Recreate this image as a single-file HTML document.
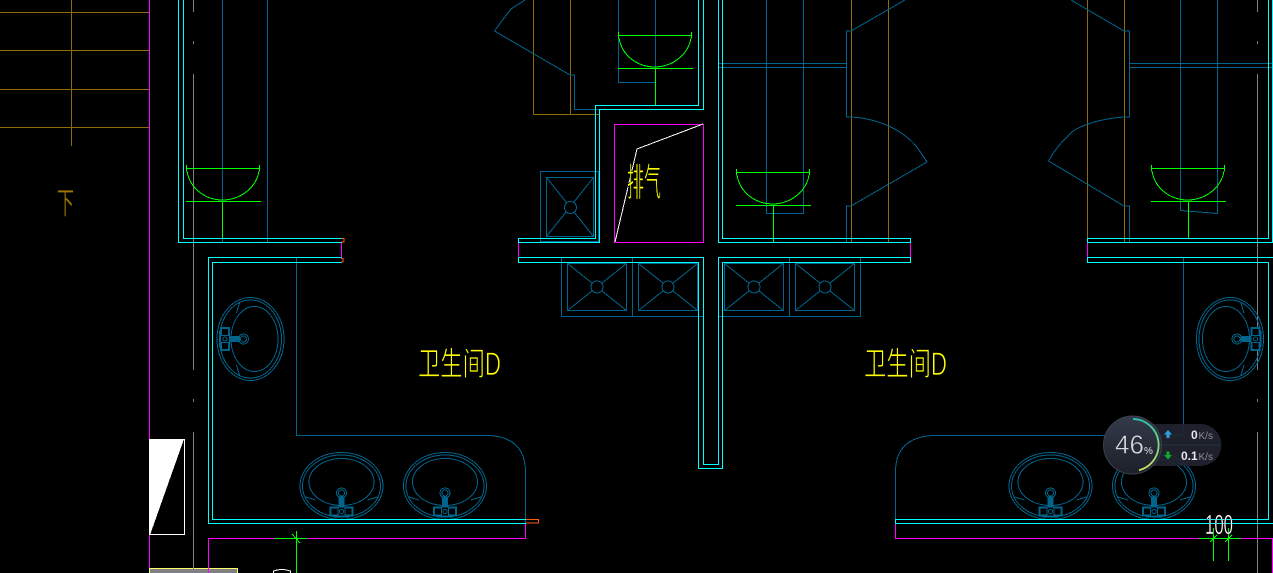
<!DOCTYPE html>
<html><head><meta charset="utf-8">
<style>
html,body{margin:0;padding:0;background:#000;width:1273px;height:573px;overflow:hidden}
svg{display:block}
.c{stroke:#00ffff}.b{stroke:#00648c}.o{stroke:#8f6a08}.m{stroke:#ff00ff}.g{stroke:#00ff00}.y{stroke:#808080}.w{stroke:#fff}
path,line,rect,ellipse,circle,polyline{fill:none;stroke-width:1}
.cad{font-family:"Liberation Sans","Noto Sans CJK SC",sans-serif}
.thin{stroke:#000;stroke-width:.7px}
.thin2{stroke:#000;stroke-width:.35px}
</style></head><body>
<svg width="1273" height="573" viewBox="0 0 1273 573" xmlns="http://www.w3.org/2000/svg">
<defs>
<g id="sink" class="b">
<ellipse rx="41.5" ry="33.5"/>
<ellipse rx="39" ry="31"/>
<ellipse cy="-4" rx="32.5" ry="23.5"/>
<path d="M-36 11L-26 14M36 11L26 14"/>
<circle cy="7" r="5" style="fill:#000"/><circle cy="7" r="3"/>
<rect x="-2.500" y="11" width="5" height="10" style="fill:#00648c"/>
<rect x="-11.500" y="21" width="23" height="9" style="fill:#000"/>
<rect x="-10.500" y="22" width="7" height="7"/><rect x="3.500" y="22" width="7" height="7"/>
<circle cy="25.500" r="2"/>
<path d="M-8 31H-3M3 31H8M0 33H1"/>
</g>
<g id="drain" class="b">
<path d="M0 0L59 47M59 0L0 47"/>
<rect x="0" y="0" width="59" height="47"/>
<circle cx="29.500" cy="23.500" r="6" style="fill:#000"/>
</g>
<g id="drainV" class="b">
<path d="M0 0L47 59M47 0L0 59"/>
<rect x="0" y="0" width="47" height="59"/>
<circle cx="24" cy="30" r="6" style="fill:#000"/>
</g>
<g id="bowl" class="g">
<path d="M.5 0V6M73.500 0V6"/>
<path d="M0 3.500H73"/>
<path d="M1 6C4 24 20 35 36.500 35C53 35 70 24 73 6"/>
<path d="M0 36.500H75"/>
</g>
</defs>

<g shape-rendering="crispEdges">
<rect width="1273" height="573" style="fill:#000"/>

<!-- stairs -->
<path class="o" d="M0 12.500H149M0 50.500H149M0 89.500H149M0 127.500H149M71.500 0V146"/>
<path class="m" d="M149.500 0V573"/>
<path class="y" d="M193.500 0V12M193.500 41V44M193.500 74V370M193.500 399V402M193.500 432V573"/>
<path class="y" d="M1257.500 0V12M1257.500 41V44M1257.500 74V370M1257.500 399V402M1257.500 432V573"/>

<!-- white door block -->
<rect class="w" x="149.500" y="439.500" width="35" height="95"/>
<polygon points="149,439 184,439 150,535 149,535" style="fill:#fff"/>
<rect x="149.500" y="568.500" width="88" height="6" style="fill:#808080;stroke:#ffff66;stroke-width:1"/>
<path class="w" d="M273.500 573V571Q282 568 290.500 571V573"/>
<path class="y" d="M193.500 568V573"/>

<!-- blue internal lines -->
<path class="b" d="M222.500 0V242M267.500 0V242"/>
<path class="b" d="M296.500 258V435.500H490Q525.500 438 525.500 472V523"/>
<path class="b" d="M1183.500 258V435.500H932Q895.500 438 895.500 472V523"/>

<!-- middle door / blue -->
<path class="o" d="M533.500 0V114.500H599.500M570.500 0V114.500"/>
<path class="b" d="M525 0L511 9L501 22L494.500 31L570 75H574.500V109.500H599"/>
<path class="b" d="M618.500 0V82.500H655.500M655.500 0V82"/>

<!-- right-centre room -->
<path class="b" d="M766.500 0V213.500H803.500V0"/>
<path class="b" d="M718 63.500H846M718 67.500H846"/>
<path class="o" d="M851.500 0V242M888.500 0V242"/>
<path class="b" d="M905 0L851 31H846.500V117H851C885 119 910 135 921 153L927 162L851 206H846.500V242"/>

<!-- far right room -->
<path class="b" d="M1180.500 0V210.500L1199 212L1217.500 213.500V0"/>
<path class="b" d="M1129 63.500H1273M1129 67.500H1273"/>
<path class="o" d="M1087.500 0V242M1124.500 0V242"/>
<path class="b" d="M1071 0L1124 31H1129.500V117H1124C1095 119 1075 128 1070 134C1060 143 1054 151 1048.500 161L1124 206H1129.500V242"/>

<!-- drains -->
<rect class="b" x="540.500" y="171.500" width="58" height="70"/>
<use href="#drainV" x="546.500" y="177.500"/>
<path class="b" d="M561.500 257.500V316.500H703M632.500 257.500V316.500"/>
<use href="#drain" x="567.500" y="263.500"/>
<use href="#drain" x="638.500" y="263.500"/>
<path class="b" d="M718 316.500H860.500V257.500M789.500 257.500V316.500"/>
<use href="#drain" x="724.500" y="263.500"/>
<use href="#drain" x="795.500" y="263.500"/>

<!-- sinks -->
<use href="#sink" transform="translate(341.500 486)"/>
<use href="#sink" transform="translate(445 486)"/>
<use href="#sink" transform="translate(1050.500 486)"/>
<use href="#sink" transform="translate(1154 486)"/>
<use href="#sink" transform="translate(250.500 339) rotate(90)"/>
<use href="#sink" transform="translate(1230 339) rotate(-90)"/>

<!-- green bowls -->
<use href="#bowl" x="186" y="165"/>
<path class="g" d="M222.500 201V238"/>
<use href="#bowl" x="618" y="32"/>
<path class="g" d="M655.500 68V105"/>
<use href="#bowl" x="736" y="169"/>
<path class="g" d="M773.500 205V242"/>
<use href="#bowl" x="1151" y="165"/>
<path class="g" d="M1188.500 201V238"/>

<!-- magenta -->
<rect class="m" x="614.500" y="124.500" width="89" height="118"/>
<path class="m" d="M341.500 242V258M518.500 242V257M910.500 242V257M1087.500 242V257"/>
<path class="m" d="M208.500 573V538.500H525.500V523"/>
<path class="m" d="M895.500 523V538.500H1272.500V573"/>
<path d="M341 238.500H344V242H341M341 258.500H343V262H341M526 519.500H538.500V523H526" style="stroke:#ff5a14"/>

<!-- white flue line -->
<path class="w" d="M615 242L637 149L703 124"/>

<!-- cyan walls -->
<path class="c" d="M178.500 0V242.500H341.500M183.500 0V238.500H341.500"/>
<path class="c" d="M341.500 257.500H208.500V523.500H526M341.500 262.500H212.500V519.500H526"/>
<path class="c" d="M698.500 0V105.500H595.500V238.500H518.500V242.500H599.500V109.500H703.500V0"/>
<path class="c" d="M518.500 257.500V262.500H698.500V468.500H722.500V262.500H910.500V257.500H718.500V464.500H703.500V257.500H518.500"/>
<path class="c" d="M718.500 0V242.500H910.500V238.500H722.500V0"/>
<path class="c" d="M1273 242.500H1087.500V238.500H1268.500V0M1272.500 0V242"/>
<path class="c" d="M1273 257.500H1087.500V262.500H1268.500V519.500H895.500V523.500H1273"/>

<!-- green ticks -->
<path class="g" d="M274 538.500H307M296.500 531V573M292 534L300 543"/>
<path class="g" d="M1199 538.500H1241M1213.500 528V561M1228.500 528V561M1210 542L1217 535M1225 542L1232 535"/>
</g>

<!-- text -->
<text class="cad thin2" transform="translate(57 214) scale(1 1.05)" font-size="29" fill="#a07808" textLength="17" lengthAdjust="spacingAndGlyphs">下</text>
<text class="cad thin" transform="translate(627 196) scale(1 1.25)" font-size="31" fill="#ffff00" textLength="34" lengthAdjust="spacingAndGlyphs">排气</text>
<text class="cad thin" transform="translate(418 375) scale(1 1.15)" font-size="28" fill="#ffff00" textLength="83" lengthAdjust="spacingAndGlyphs">卫生间D</text>
<text class="cad thin" transform="translate(864 375) scale(1 1.15)" font-size="28" fill="#ffff00" textLength="83" lengthAdjust="spacingAndGlyphs">卫生间D</text>
<text class="cad thin2" transform="translate(1205 534) scale(1 1.25)" font-size="22" fill="#ffffff" textLength="28" lengthAdjust="spacingAndGlyphs">100</text>

<!-- network widget -->
<defs>
<linearGradient id="arc" x1="0" y1="0" x2="0" y2="1"><stop offset="0" stop-color="#28c8b0"/><stop offset="1" stop-color="#cfe46a"/></linearGradient>
<linearGradient id="disc" x1="0" y1="0" x2="0" y2="1"><stop offset="0" stop-color="#343a4a"/><stop offset="1" stop-color="#1d2029"/></linearGradient>
</defs>
<rect x="1132" y="424" width="89.500" height="42" rx="21" style="fill:#20242f;fill-opacity:.93;stroke:none"/>
<line x1="1162" y1="445" x2="1220" y2="445" style="stroke:#2c313d"/>
<circle cx="1132.500" cy="445" r="29" style="fill:url(#disc);stroke:#3a3f4c"/>
<path d="M1133 419A26 26 0 0 1 1139 470.200" style="stroke:url(#arc);stroke-width:1.800;fill:none"/>
<text class="cad" x="1115" y="453.500" font-size="26" fill="#d8dade" style="stroke:#262a36;stroke-width:.5px">46</text>
<text class="cad" x="1144" y="454" font-size="10" fill="#e0e2e6">%</text>
<polygon points="1168,430 1172,434.500 1169.500,434.500 1169.500,438 1166.500,438 1166.500,434.500 1164,434.500" style="fill:#2f9fe0"/>
<polygon points="1168,459.500 1172,455 1169.500,455 1169.500,451.500 1166.500,451.500 1166.500,455 1164,455" style="fill:#12a82a"/>
<text class="cad" x="1191" y="439" font-size="12" font-weight="bold" fill="#e4e6ea">0</text>
<text class="cad" x="1198.500" y="439" font-size="10" fill="#8a8e98">K/s</text>
<text class="cad" x="1181" y="460" font-size="12" font-weight="bold" fill="#e4e6ea">0.1</text>
<text class="cad" x="1198.500" y="460" font-size="10" fill="#8a8e98">K/s</text>
</svg>
</body></html>
